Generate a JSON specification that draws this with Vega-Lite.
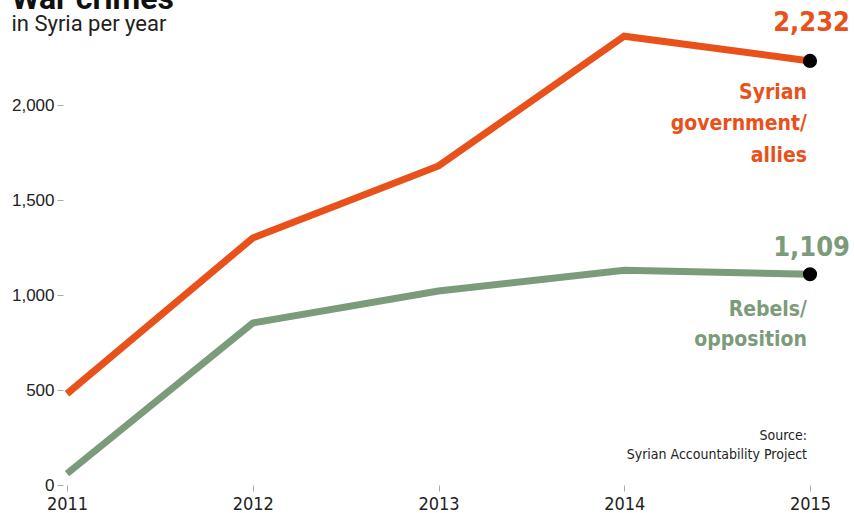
{
  "$schema": "https://vega.github.io/schema/vega-lite/v6.json",
  "width": 743,
  "height": 475,
  "autosize": {"type": "none"},
  "padding": {"left": 67, "top": 10, "right": 44, "bottom": 28},
  "background": "white",
  "config": {"view": {"stroke": null}},
  "title": {
    "text": "War crimes",
    "subtitle": "in Syria per year",
    "anchor": "start",
    "frame": "bounds",
    "offset": -27,
    "font": "Roboto",
    "fontSize": 32,
    "fontWeight": "bold",
    "color": "#111",
    "subtitleFont": "Roboto",
    "subtitleFontSize": 22,
    "subtitleColor": "#222",
    "subtitlePadding": -2
  },
  "data": {
    "values": [
      {"year": 2011, "value": 480, "series": "gov"},
      {"year": 2012, "value": 1300, "series": "gov"},
      {"year": 2013, "value": 1679, "series": "gov"},
      {"year": 2014, "value": 2362, "series": "gov"},
      {"year": 2015, "value": 2232, "series": "gov", "label": "Syrian\ngovernment/\nallies"},
      {"year": 2011, "value": 60, "series": "reb"},
      {"year": 2012, "value": 853, "series": "reb"},
      {"year": 2013, "value": 1021, "series": "reb"},
      {"year": 2014, "value": 1130, "series": "reb"},
      {"year": 2015, "value": 1109, "series": "reb", "label": "Rebels/\nopposition"}
    ]
  },
  "layer": [
    {
      "mark": {"type": "line", "strokeWidth": 7, "strokeJoin": "miter", "strokeCap": "butt"},
      "encoding": {
        "x": {
          "field": "year",
          "type": "quantitative",
          "scale": {"domain": [2011, 2015], "nice": false, "zero": false},
          "axis": {
            "title": null,
            "values": [2011, 2012, 2013, 2014, 2015],
            "format": "d",
            "grid": false,
            "domain": false,
            "tickSize": 6,
            "tickColor": "#aaaaaa",
            "labelPadding": 4,
            "labelFont": "Liberation Sans Narrow, DejaVu Sans Condensed, sans-serif",
            "labelFontSize": 18,
            "labelColor": "#222",
            "labelFlush": false
          }
        },
        "y": {
          "field": "value",
          "type": "quantitative",
          "scale": {"domain": [0, 2500], "nice": false},
          "axis": {
            "title": null,
            "values": [0, 500, 1000, 1500, 2000],
            "format": ",d",
            "grid": false,
            "domain": false,
            "offset": 4,
            "tickSize": 6,
            "tickColor": "#aaaaaa",
            "labelPadding": 3,
            "labelFont": "Liberation Sans",
            "labelFontSize": 17,
            "labelColor": "#222"
          }
        },
        "color": {
          "field": "series",
          "type": "nominal",
          "scale": {"domain": ["gov", "reb"], "range": ["#e8511a", "#7c9b7b"]},
          "legend": null
        }
      }
    },
    {
      "transform": [{"filter": "datum.year == 2015"}],
      "mark": {"type": "point", "filled": true, "size": 200, "color": "black", "opacity": 1},
      "encoding": {
        "x": {"field": "year", "type": "quantitative"},
        "y": {"field": "value", "type": "quantitative"}
      }
    },
    {
      "transform": [{"filter": "datum.year == 2015 && datum.series == 'gov'"}],
      "mark": {"type": "text", "align": "right", "baseline": "alphabetic", "dx": 40, "dy": -30, "font": "DejaVu Sans Condensed", "fontSize": 27, "fontWeight": "bold", "color": "#e8511a"},
      "encoding": {
        "x": {"field": "year", "type": "quantitative"},
        "y": {"field": "value", "type": "quantitative"},
        "text": {"field": "value", "type": "quantitative", "format": ",d"}
      }
    },
    {
      "transform": [{"filter": "datum.year == 2015 && datum.series == 'reb'"}],
      "mark": {"type": "text", "align": "right", "baseline": "alphabetic", "dx": 40, "dy": -18, "font": "DejaVu Sans Condensed", "fontSize": 27, "fontWeight": "bold", "color": "#7c9b7b"},
      "encoding": {
        "x": {"field": "year", "type": "quantitative"},
        "y": {"field": "value", "type": "quantitative"},
        "text": {"field": "value", "type": "quantitative", "format": ",d"}
      }
    },
    {
      "transform": [{"filter": "datum.year == 2015 && datum.series == 'gov'"}],
      "mark": {"type": "text", "align": "right", "baseline": "alphabetic", "dx": -3, "dy": 38, "lineBreak": "\n", "lineHeight": 31.5, "font": "DejaVu Sans Condensed", "fontSize": 21, "fontWeight": "bold", "color": "#e8511a"},
      "encoding": {
        "x": {"field": "year", "type": "quantitative"},
        "y": {"field": "value", "type": "quantitative"},
        "text": {"field": "label"}
      }
    },
    {
      "transform": [{"filter": "datum.year == 2015 && datum.series == 'reb'"}],
      "mark": {"type": "text", "align": "right", "baseline": "alphabetic", "dx": -3, "dy": 42, "lineBreak": "\n", "lineHeight": 30, "font": "DejaVu Sans Condensed", "fontSize": 21, "fontWeight": "bold", "color": "#7c9b7b"},
      "encoding": {
        "x": {"field": "year", "type": "quantitative"},
        "y": {"field": "value", "type": "quantitative"},
        "text": {"field": "label"}
      }
    },
    {
      "data": {"values": [{"note": "Source:\nSyrian Accountability Project"}]},
      "mark": {"type": "text", "align": "right", "baseline": "alphabetic", "dx": -3, "lineBreak": "\n", "lineHeight": 19, "font": "DejaVu Sans Condensed", "fontSize": 14, "color": "#222"},
      "encoding": {
        "x": {"datum": 2015},
        "y": {"datum": 236},
        "text": {"field": "note"}
      }
    }
  ]
}
